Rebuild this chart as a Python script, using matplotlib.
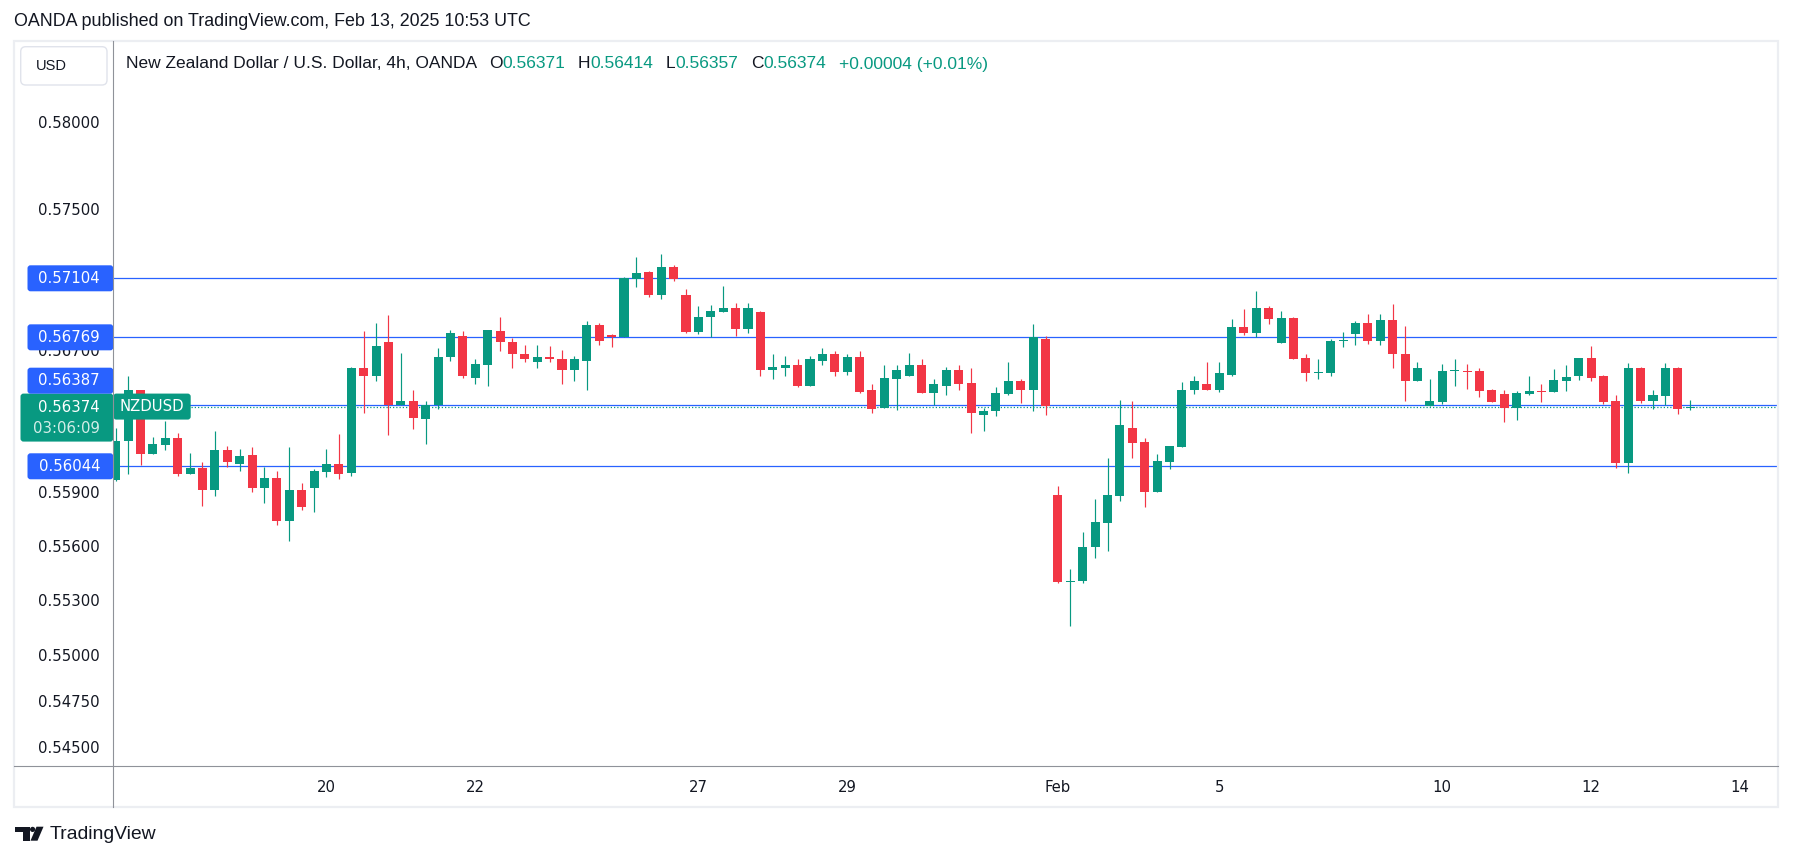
import numpy as np
import matplotlib
matplotlib.use('Agg')
import matplotlib.pyplot as plt
from matplotlib.patches import Rectangle, FancyBboxPatch, Polygon, Circle
from matplotlib.ticker import FixedLocator, FixedFormatter, NullLocator

# ---------------- data ----------------
opens = [
    0.55967, 0.56187, 0.56469, 0.56110, 0.56164, 0.56204, 0.56001, 0.56035, 0.55911, 0.56136,
    0.56057, 0.56108, 0.55922, 0.55978, 0.55741, 0.55911, 0.55922, 0.56012, 0.56057, 0.56006,
    0.56598, 0.56553, 0.56745, 0.56390, 0.56412, 0.56311, 0.56390, 0.56660, 0.56779, 0.56542,
    0.56610, 0.56807, 0.56745, 0.56677, 0.56627, 0.56660, 0.56649, 0.56582, 0.56638, 0.56841,
    0.56785, 0.56769, 0.57100, 0.57140, 0.57010, 0.57168, 0.57010, 0.56801, 0.56886, 0.56914,
    0.56937, 0.56818, 0.56914, 0.56582, 0.56598, 0.56610, 0.56497, 0.56638, 0.56677, 0.56576,
    0.56660, 0.56469, 0.56373, 0.56536, 0.56553, 0.56610, 0.56457, 0.56497, 0.56582, 0.56514,
    0.56333, 0.56356, 0.56452, 0.56525, 0.56469, 0.56762, 0.55884, 0.55401, 0.55407, 0.55595,
    0.55729, 0.55877, 0.56260, 0.56181, 0.55899, 0.56068, 0.56153, 0.56469, 0.56508, 0.56474,
    0.56559, 0.56830, 0.56796, 0.56937, 0.56739, 0.56880, 0.56655, 0.56570, 0.56570, 0.56751,
    0.56790, 0.56852, 0.56751, 0.56869, 0.56677, 0.56525, 0.56379, 0.56404, 0.56579, 0.56579,
    0.56579, 0.56472, 0.56449, 0.56371, 0.56449, 0.56466, 0.56461, 0.56523, 0.56551, 0.56652,
    0.56551, 0.56410, 0.56060, 0.56596, 0.56410, 0.56438, 0.56596, 0.56371]
highs = [
    0.56258, 0.56553, 0.56474, 0.56206, 0.56298, 0.56232, 0.56121, 0.56068, 0.56243, 0.56159,
    0.56142, 0.56153, 0.56040, 0.56018, 0.56153, 0.55950, 0.56029, 0.56142, 0.56226, 0.56604,
    0.56807, 0.56852, 0.56897, 0.56683, 0.56474, 0.56412, 0.56711, 0.56813, 0.56807, 0.56644,
    0.56813, 0.56886, 0.56768, 0.56728, 0.56728, 0.56722, 0.56700, 0.56666, 0.56863, 0.56852,
    0.56790, 0.57112, 0.57224, 0.57145, 0.57241, 0.57179, 0.57044, 0.56948, 0.56954, 0.57061,
    0.56965, 0.56965, 0.56920, 0.56677, 0.56666, 0.56649, 0.56666, 0.56711, 0.56689, 0.56677,
    0.56689, 0.56503, 0.56610, 0.56615, 0.56683, 0.56649, 0.56536, 0.56604, 0.56610, 0.56593,
    0.56373, 0.56486, 0.56627, 0.56531, 0.56847, 0.56779, 0.55935, 0.55473, 0.55679, 0.55863,
    0.56091, 0.56418, 0.56412, 0.56204, 0.56114, 0.56159, 0.56519, 0.56553, 0.56627, 0.56627,
    0.56875, 0.56931, 0.57033, 0.56948, 0.56920, 0.56886, 0.56677, 0.56644, 0.56762, 0.56801,
    0.56863, 0.56903, 0.56903, 0.56959, 0.56835, 0.56627, 0.56531, 0.56619, 0.56647, 0.56619,
    0.56596, 0.56478, 0.56472, 0.56466, 0.56551, 0.56506, 0.56590, 0.56613, 0.56652, 0.56720,
    0.56557, 0.56444, 0.56624, 0.56602, 0.56472, 0.56624, 0.56602, 0.56414]
lows = [
    0.55963, 0.56001, 0.56052, 0.56110, 0.56136, 0.55990, 0.56001, 0.55820, 0.55877, 0.56040,
    0.56018, 0.55899, 0.55837, 0.55719, 0.55629, 0.55803, 0.55787, 0.55984, 0.55973, 0.55990,
    0.56345, 0.56525, 0.56221, 0.56390, 0.56254, 0.56170, 0.56367, 0.56638, 0.56542, 0.56508,
    0.56497, 0.56689, 0.56598, 0.56627, 0.56598, 0.56627, 0.56503, 0.56520, 0.56469, 0.56728,
    0.56717, 0.56769, 0.57055, 0.56999, 0.56987, 0.57089, 0.56796, 0.56790, 0.56771, 0.56914,
    0.56779, 0.56796, 0.56548, 0.56531, 0.56548, 0.56486, 0.56497, 0.56610, 0.56548, 0.56559,
    0.56457, 0.56345, 0.56373, 0.56362, 0.56553, 0.56457, 0.56390, 0.56441, 0.56469, 0.56232,
    0.56243, 0.56328, 0.56441, 0.56401, 0.56356, 0.56333, 0.55395, 0.55159, 0.55395, 0.55533,
    0.55573, 0.55849, 0.56091, 0.55815, 0.55899, 0.56029, 0.56153, 0.56452, 0.56469, 0.56463,
    0.56548, 0.56785, 0.56773, 0.56847, 0.56739, 0.56649, 0.56525, 0.56536, 0.56553, 0.56717,
    0.56728, 0.56734, 0.56728, 0.56598, 0.56412, 0.56525, 0.56379, 0.56393, 0.56495, 0.56478,
    0.56433, 0.56404, 0.56292, 0.56303, 0.56444, 0.56404, 0.56461, 0.56466, 0.56528, 0.56523,
    0.56393, 0.56032, 0.56004, 0.56399, 0.56365, 0.56387, 0.56337, 0.56357]
closes = [
    0.56187, 0.56469, 0.56110, 0.56170, 0.56204, 0.56001, 0.56033, 0.55911, 0.56136, 0.56068,
    0.56102, 0.55922, 0.55978, 0.55741, 0.55911, 0.55815, 0.56018, 0.56057, 0.56001, 0.56598,
    0.56553, 0.56722, 0.56390, 0.56412, 0.56317, 0.56390, 0.56660, 0.56796, 0.56548, 0.56621,
    0.56813, 0.56745, 0.56672, 0.56649, 0.56660, 0.56649, 0.56582, 0.56644, 0.56841, 0.56751,
    0.56769, 0.57106, 0.57134, 0.57010, 0.57168, 0.57100, 0.56801, 0.56886, 0.56920, 0.56937,
    0.56818, 0.56937, 0.56582, 0.56604, 0.56610, 0.56497, 0.56644, 0.56672, 0.56576, 0.56660,
    0.56463, 0.56367, 0.56542, 0.56587, 0.56610, 0.56457, 0.56503, 0.56582, 0.56508, 0.56345,
    0.56356, 0.56457, 0.56525, 0.56469, 0.56769, 0.56379, 0.55401, 0.55407, 0.55595, 0.55734,
    0.55884, 0.56277, 0.56176, 0.55899, 0.56074, 0.56159, 0.56474, 0.56525, 0.56474, 0.56570,
    0.56830, 0.56796, 0.56937, 0.56875, 0.56880, 0.56649, 0.56565, 0.56576, 0.56751, 0.56756,
    0.56852, 0.56751, 0.56869, 0.56672, 0.56525, 0.56598, 0.56412, 0.56579, 0.56585, 0.56574,
    0.56466, 0.56404, 0.56371, 0.56455, 0.56466, 0.56461, 0.56528, 0.56545, 0.56652, 0.56540,
    0.56404, 0.56060, 0.56596, 0.56410, 0.56444, 0.56596, 0.56365, 0.56374]

date_tick_idx = [17, 29, 47, 59, 76, 89, 107, 119, 131]
date_tick_labels = ['20', '22', '27', '29', 'Feb', '5', '10', '12', '14']
price_ticks = [0.58, 0.575, 0.567, 0.559, 0.556, 0.553, 0.55, 0.5475, 0.545]
price_tick_labels = ['0.58000', '0.57500', '0.56700', '0.55900', '0.55600',
                     '0.55300', '0.55000', '0.54750', '0.54500']
level_prices = [0.57104, 0.56769, 0.56387, 0.56044]
level_labels = ['0.57104', '0.56769', '0.56387', '0.56044']
last_price = 0.56374
last_label = '0.56374'
countdown = '03:06:09'
symbol = 'NZDUSD'
title = 'OANDA published on TradingView.com, Feb 13, 2025 10:53 UTC'
legend_name = 'New Zealand Dollar / U.S. Dollar, 4h, OANDA'
ohlc_letters = ['O', 'H', 'L', 'C']
ohlc_values = ['0.56371', '0.56414', '0.56357', '0.56374']
change_text = '+0.00004 (+0.01%)'
currency = 'USD'
brand = 'TradingView'

# ---------------- style ----------------
UP = '#089981'
DOWN = '#f23645'
BLUE = '#2962ff'
TXT = '#131722'
AXIS = '#8f9299'
FRAME = '#eceef2'
plt.rcParams['font.family'] = ['DejaVu Sans']
HFONT = ['Liberation Sans', 'DejaVu Sans']

W, H = 1793, 861
fig = plt.figure(figsize=(W / 100, H / 100), dpi=100, facecolor='white')
L, R, T, B = 113.3, 1777.0, 41.5, 766.0
ax = fig.add_axes([L / W, 1 - B / H, (R - L) / W, (B - T) / H])
ax.set_facecolor('white')
ax.set_yscale('log')
ax.set_ylim(0.543946, 0.584678)
ax.set_xlim(-0.194, 134.0)

o = np.array(opens); h = np.array(highs); l = np.array(lows); c = np.array(closes)
idx = np.arange(len(o))
up = c >= o
cols = np.where(up, UP, DOWN)
ax.vlines(idx, l, h, colors=cols, lw=0.85, zorder=3)
lo = np.minimum(o, c)
hi = np.maximum(o, c)
hgt = np.maximum(hi - lo, 0.00005)
ax.bar(idx, hgt, bottom=lo, width=0.73, color=cols, linewidth=0, zorder=4)

for p in level_prices:
    ax.axhline(p, color=BLUE, lw=0.9, zorder=2)
ax.axhline(last_price, color=UP, lw=0.9, ls=(0, (1, 1.6)), zorder=2)

ax.yaxis.set_major_locator(FixedLocator(price_ticks))
ax.yaxis.set_major_formatter(FixedFormatter(price_tick_labels))
ax.yaxis.set_minor_locator(NullLocator())
ax.tick_params(axis='y', which='both', length=0, pad=9.6, labelsize=10.7, labelcolor=TXT)
ax.set_xticks(date_tick_idx, date_tick_labels)
ax.tick_params(axis='x', length=0, pad=9.8, labelsize=10.7, labelcolor=TXT)
for s in ax.spines.values():
    s.set_visible(False)

# ---------------- overlay in pixel coordinates ----------------
ov = fig.add_axes([0, 0, 1, 1], zorder=5)
ov.set_xlim(0, W)
ov.set_ylim(H, 0)
ov.axis('off')

def ypix(p):
    return H - ax.transData.transform((0, p))[1]

# frame & scale lines
ov.add_patch(Rectangle((14, 41), 1764, 766, fill=False, ec=FRAME, lw=1.6))
ov.plot([113.3, 113.3], [41, 807], color=AXIS, lw=0.8)
ov.plot([14, 1778], [766, 766], color=AXIS, lw=0.8)

# current price label
yl = ypix(last_price)
g_top = yl - 13.8
ov.add_patch(FancyBboxPatch((20.5, g_top), 113.3 - 20.5, 48, boxstyle='round,pad=0,rounding_size=3',
                            fc=UP, ec='none'))
ov.text(100, yl, last_label, color='white', fontsize=10.7, ha='right', va='center')
ov.text(100, yl + 21, countdown, color='#d3eee8', fontsize=10.7, ha='right', va='center')
ov.add_patch(FancyBboxPatch((113.3, g_top), 77.4, 26, boxstyle='round,pad=0,rounding_size=3',
                            fc=UP, ec='none'))
ov.text(152, yl - 0.8, symbol, color='white', fontsize=10.7, ha='center', va='center')

# level labels
for p, lab in zip(level_prices, level_labels):
    yc = ypix(p)
    if abs(p - last_price) < 0.0005:
        yc = g_top - 12.9
    ov.add_patch(FancyBboxPatch((27.5, yc - 13), 113.3 - 27.5, 26, boxstyle='round,pad=0,rounding_size=3',
                                fc=BLUE, ec='none'))
    ov.text(100, yc, lab, color='white', fontsize=10.7, ha='right', va='center')

# USD button
ov.add_patch(FancyBboxPatch((20.7, 46.7), 86.3, 38.3, boxstyle='round,pad=0,rounding_size=5',
                            fc='white', ec='#e0e3eb', lw=1))

fig.canvas.draw()
renderer = fig.canvas.get_renderer()

def fit_text(x, y, s, target_w, **kw):
    t = ov.text(x, y, s, fontsize=10, **kw)
    w = t.get_window_extent(renderer).width
    t.set_fontsize(10 * target_w / w)
    return t

ov.text(36, 65.5, currency, fontsize=10.5, family=HFONT, color=TXT, ha='left', va='center')
fit_text(14, 21, title, 517, family=HFONT, color=TXT, ha='left', va='center')

# legend line: sequential colored pieces, scaled to span 125.6 -> 983
pieces = [(legend_name, TXT, True)]
for letter, val in zip(ohlc_letters, ohlc_values):
    pieces.append((letter, TXT, False))
    pieces.append((val, UP, True))
pieces.append((change_text, UP, False))
GAP_PX = 12.5

def measure(fs):
    tot = 0.0
    for s, col, gap in pieces:
        t = ov.text(0, 0, s, fontsize=fs, family=HFONT)
        tot += t.get_window_extent(renderer).width
        t.remove()
        if gap:
            tot += GAP_PX
    return tot

target = 983 - 125.6
ngap = sum(1 for p in pieces if p[2]) * GAP_PX
fs = 10.0 * (target - ngap) / (measure(10.0) - ngap)
fs = fs * (target - ngap) / (measure(fs) - ngap)
x = 125.6
for s, col, gap in pieces:
    t = ov.text(x, 64, s, fontsize=fs, family=HFONT, color=col, ha='left', va='center')
    x += t.get_window_extent(renderer).width
    if gap:
        x += GAP_PX

# TradingView logo
ov.add_patch(Polygon([(15, 826.7), (29.5, 826.7), (29.5, 840.7), (23, 840.7), (23, 832.2), (15, 832.2)],
                     closed=True, fc=TXT, ec='none'))
ov.add_patch(Circle((32.6, 829.4), 2.6, fc=TXT, ec='none'))
ov.add_patch(Polygon([(36.5, 826.7), (43.5, 826.7), (37.5, 840.7), (30.5, 840.7)],
                     closed=True, fc=TXT, ec='none'))
fit_text(50, 834.5, brand, 107, family=HFONT, color=TXT, ha='left', va='center')

fig.savefig('out.png', dpi=100, facecolor='white')
